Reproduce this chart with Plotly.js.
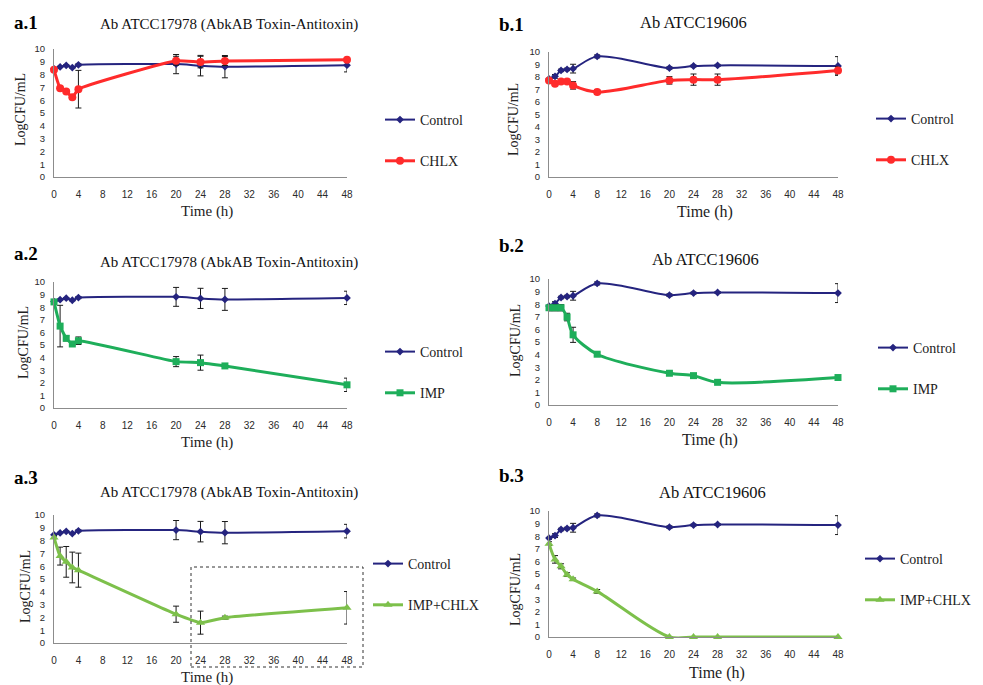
<!DOCTYPE html>
<html>
<head>
<meta charset="utf-8">
<script src="https://cdn.plot.ly/plotly-3.0.1.min.js"></script>
<style>html,body{margin:0;padding:0;background:#fff;}#chart{width:983px;height:685px;}</style>
</head>
<body>
<div id="chart"></div>
<script>
// ---- data ----
const aTime = [0, 1, 2, 3, 4, 20, 24, 28, 48];
const bTime = [0, 1, 2, 3, 4, 8, 20, 24, 28, 48];
const xTicks = [0, 4, 8, 12, 16, 20, 24, 28, 32, 36, 40, 44, 48];
const yTicks = [0, 1, 2, 3, 4, 5, 6, 7, 8, 9, 10];

const aControl    = [8.45, 8.6, 8.72, 8.55, 8.76, 8.82, 8.7, 8.62, 8.74];
const aControlErr = [0.05, 0.05, 0.05, 0.05, 0.08, 0.75, 0.8, 0.87, 0.53];
const a1Chlx      = [8.38, 6.94, 6.68, 6.23, 6.86, 9.08, 8.98, 9.06, 9.16];
const a1ChlxErr   = [0.1, 0.15, 0.15, 0.15, 1.47, 0.35, 0.45, 0.35, 0.15];
const a2Imp       = [8.42, 6.5, 5.53, 5.08, 5.34, 3.68, 3.6, 3.34, 1.84];
const a2ImpErr    = [0.1, 1.65, 0.2, 0.1, 0.3, 0.4, 0.6, 0.15, 0.53];
const a3ImpChlx   = [8.25, 6.79, 6.34, 5.9, 5.69, 2.25, 1.59, 1.98, 2.75];
const a3ImpChlxErr= [0.1, 0.7, 1.2, 1.2, 1.33, 0.63, 0.9, 0.12, 1.27];

const bControl    = [7.85, 8.05, 8.53, 8.61, 8.67, 9.65, 8.72, 8.88, 8.93, 8.88];
const bControlErr = [0.1, 0.15, 0.1, 0.1, 0.35, 0.12, 0.1, 0.08, 0.08, 0.75];
const b1Chlx      = [7.73, 7.47, 7.65, 7.65, 7.33, 6.8, 7.73, 7.79, 7.79, 8.53];
const b1ChlxErr   = [0.15, 0.1, 0.1, 0.1, 0.3, 0.2, 0.3, 0.45, 0.45, 0.3];
const b2Imp       = [7.72, 7.72, 7.72, 6.98, 5.57, 4.03, 2.52, 2.33, 1.8, 2.18];
const b2ImpErr    = [0.25, 0.25, 0.25, 0.3, 0.6, 0.12, 0.1, 0.1, 0.1, 0.15];
const b3ImpChlx   = [7.41, 6.16, 5.61, 4.95, 4.58, 3.62, 0, 0, 0, 0];
const b3ImpChlxErr= [0.15, 0.3, 0.2, 0.15, 0.1, 0.15, 0, 0, 0, 0];

const titleA = 'Ab ATCC17978 (AbkAB Toxin-Antitoxin)';
const titleB = 'Ab ATCC19606';
const panelLabels = ['a.1', 'b.1', 'a.2', 'b.2', 'a.3', 'b.3'];

// ---- styling ----
const W = 983, H = 685;
const NAVY = '#25247f', RED = '#ff2b2b', GREEN = '#1eae5a', LGREEN = '#7dc04b';
const SERIF = 'Liberation Serif, Times New Roman, serif';
const SANS = 'Liberation Sans, Arial, sans-serif';

function fx(px) { return px / W; }
function fy(py) { return 1 - py / H; }

function mk(x, y, err, name, color, symbol, size, ax, leg, w, smooth) {
  return {
    type: 'scatter', mode: 'lines+markers', x: x, y: y, name: name,
    xaxis: 'x' + (ax === 1 ? '' : ax), yaxis: 'y' + (ax === 1 ? '' : ax),
    legend: leg, legendgroup: name + ax,
    line: {color: color, width: w, shape: 'spline', smoothing: smooth},
    marker: {color: color, symbol: symbol, size: size},
    error_y: {type: 'data', array: err, visible: true, color: '#1a1a1a', thickness: 1, width: 3},
    cliponaxis: false
  };
}

const traces = [
  mk(aTime, aControl, aControlErr, 'Control', NAVY, 'diamond', 6, 1, 'legend', 2, 0.4),
  mk(aTime, a1Chlx, a1ChlxErr, 'CHLX', RED, 'circle', 8, 1, 'legend', 3, 0.4),
  mk(bTime, bControl, bControlErr, 'Control', NAVY, 'diamond', 6, 2, 'legend2', 2, 0.9),
  mk(bTime, b1Chlx, b1ChlxErr, 'CHLX', RED, 'circle', 8, 2, 'legend2', 3, 0.9),
  mk(aTime, aControl, aControlErr, 'Control', NAVY, 'diamond', 6, 3, 'legend3', 2, 0.4),
  mk(aTime, a2Imp, a2ImpErr, 'IMP', GREEN, 'square', 7, 3, 'legend3', 3, 0.4),
  mk(bTime, bControl, bControlErr, 'Control', NAVY, 'diamond', 6, 4, 'legend4', 2, 0.9),
  mk(bTime, b2Imp, b2ImpErr, 'IMP', GREEN, 'square', 7, 4, 'legend4', 3, 0.8),
  mk(aTime, aControl, aControlErr, 'Control', NAVY, 'diamond', 6, 5, 'legend5', 2, 0.4),
  mk(aTime, a3ImpChlx, a3ImpChlxErr, 'IMP+CHLX', LGREEN, 'triangle-up', 8, 5, 'legend5', 3, 0.4),
  mk(bTime, bControl, bControlErr, 'Control', NAVY, 'diamond', 6, 6, 'legend6', 2, 0.9),
  mk(bTime, b3ImpChlx, b3ImpChlxErr, 'IMP+CHLX', LGREEN, 'triangle-up', 8, 6, 'legend6', 3, 0.9)
];

// panel boxes in pixels: [left, right, top, bottom]
const boxes = [
  [54, 347, 49, 177],
  [549, 838, 52, 177],
  [54, 347, 282, 408],
  [549, 838, 279, 405],
  [54, 347, 515, 643],
  [549, 838, 511, 637]
];

const layout = {
  width: W, height: H, margin: {l: 0, r: 0, t: 0, b: 0},
  paper_bgcolor: '#fff', plot_bgcolor: 'rgba(0,0,0,0)',
  showlegend: true, annotations: [], shapes: []
};

boxes.forEach((b, i) => {
  const n = i === 0 ? '' : (i + 1);
  layout['xaxis' + n] = {
    domain: [fx(b[0]), fx(b[1])], anchor: 'y' + n, range: [0, 48],
    tickvals: xTicks, ticktext: xTicks.map(String), showgrid: false, zeroline: false,
    showline: true, linecolor: '#8c8c8c', linewidth: 1, ticks: '', ticklabelstandoff: 8,
    tickfont: {family: SANS, size: 10, color: '#2a2a2a'}, fixedrange: true
  };
  layout['yaxis' + n] = {
    domain: [fy(b[3]), fy(b[2])], anchor: 'x' + n, range: [0, 10],
    tickvals: yTicks, ticktext: yTicks.map(String), showgrid: false, zeroline: false,
    showline: true, linecolor: '#8c8c8c', linewidth: 1, ticks: '', ticklabelstandoff: 6,
    tickfont: {family: SANS, size: 9.5, color: '#2a2a2a'}, fixedrange: true
  };
});

// legends: [left px, top px]
const legPos = [[380, 104], [871, 103], [380, 336], [873, 332], [368, 548], [860, 543]];
legPos.forEach((p, i) => {
  const key = i === 0 ? 'legend' : 'legend' + (i + 1);
  layout[key] = {
    x: fx(p[0]), y: fy(p[1]), xanchor: 'left', yanchor: 'top',
    font: {family: SERIF, size: 14, color: '#222'}, bgcolor: 'rgba(0,0,0,0)',
    traceorder: 'grouped', tracegroupgap: 20, itemclick: false
  };
});

// panel labels, titles, axis titles
const labelPos = [[12, 22], [497, 25], [12, 253], [497, 245], [12, 477], [497, 475]];
const titlePos = [[229, 25], [693, 22], [229, 262], [705, 259], [229, 492], [712, 492]];
const xTitlePos = [[207, 212], [705, 212], [207, 442], [710, 440], [207, 677], [717, 673]];
const yTitlePos = [[20, 110], [513, 120], [23, 343], [515, 341], [25, 587], [515, 590]];

panelLabels.forEach((lab, i) => {
  layout.annotations.push({
    text: '<b>' + lab + '</b>', xref: 'paper', yref: 'paper',
    x: fx(labelPos[i][0]), y: fy(labelPos[i][1]), xanchor: 'left', yanchor: 'middle',
    showarrow: false, font: {family: SERIF, size: 19, color: '#000'}
  });
  layout.annotations.push({
    text: i % 2 === 0 ? titleA : titleB, xref: 'paper', yref: 'paper',
    x: fx(titlePos[i][0]), y: fy(titlePos[i][1]), xanchor: 'center', yanchor: 'middle',
    showarrow: false, font: {family: SERIF, size: i % 2 === 0 ? 15 : 16.5, color: '#111'}
  });
  layout.annotations.push({
    text: 'Time (h)', xref: 'paper', yref: 'paper',
    x: fx(xTitlePos[i][0]), y: fy(xTitlePos[i][1]), xanchor: 'center', yanchor: 'middle',
    showarrow: false, font: {family: SERIF, size: i % 2 === 0 ? 15 : 16, color: '#222'}
  });
  layout.annotations.push({
    text: 'LogCFU/mL', xref: 'paper', yref: 'paper', textangle: -90,
    x: fx(yTitlePos[i][0]), y: fy(yTitlePos[i][1]), xanchor: 'center', yanchor: 'middle',
    showarrow: false, font: {family: SERIF, size: 14, color: '#222'}
  });
});

// dashed box in panel a.3
layout.shapes.push({
  type: 'rect', xref: 'paper', yref: 'paper',
  x0: fx(191), x1: fx(363), y0: fy(667), y1: fy(567),
  line: {color: '#333', width: 1, dash: 'dot'}
});

Plotly.newPlot('chart', traces, layout, {staticPlot: true, displayModeBar: false});
</script>
</body>
</html>
